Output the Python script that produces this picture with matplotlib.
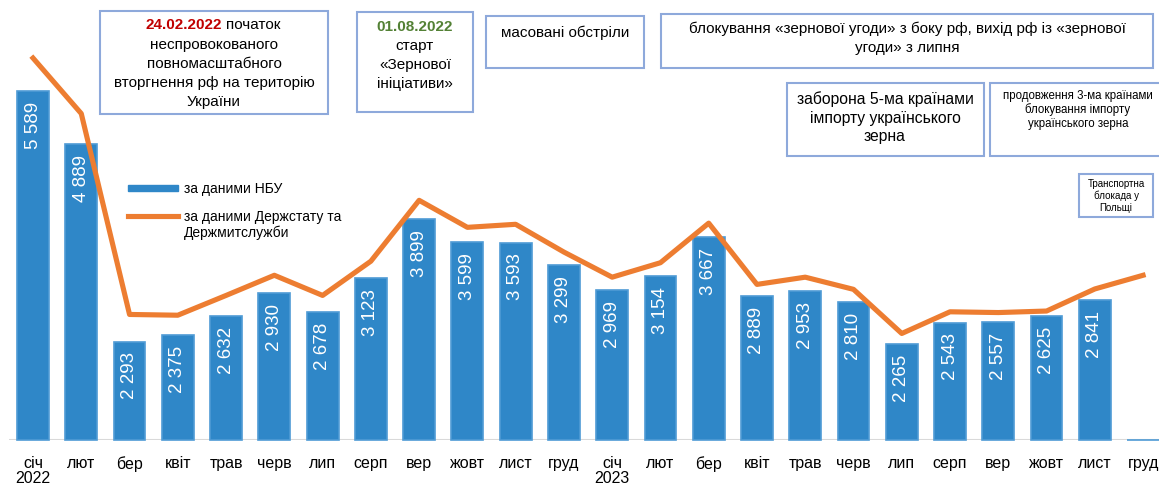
import numpy as np
import matplotlib
matplotlib.use("Agg")
import matplotlib.pyplot as plt
from matplotlib.patches import Rectangle
from matplotlib.lines import Line2D

plt.rcParams['font.family'] = ['Liberation Sans', 'DejaVu Sans']

# --- data ---
months = ['січ', 'лют', 'бер', 'квіт', 'трав', 'черв', 'лип', 'серп', 'вер', 'жовт', 'лист', 'груд'] * 2
years = {0: '2022', 12: '2023'}
nbu = [5589, 4889, 2293, 2375, 2632, 2930, 2678, 3123, 3899, 3599, 3593, 3299,
       2969, 3154, 3667, 2889, 2953, 2810, 2265, 2543, 2557, 2625, 2841, 0]
derzh = [6020, 5290, 2650, 2640, 2900, 3165, 2900, 3350, 4150, 3795, 3835, 3470,
         3140, 3330, 3850, 3045, 3140, 2980, 2400, 2685, 2675, 2695, 2985, 3165]
nbu_label = 'за даними НБУ'
derzh_label = 'за даними Держстату та\nДержмитслужби'

BLUE = '#2F87C8'
ORANGE = '#ED7D31'
BOXEDGE = '#8EA9DB'
W, H = 1159, 485
YMIN, YMAX = 1000, 6796

fig = plt.figure(figsize=(W / 100, H / 100), dpi=100)
ax = fig.add_axes([0, 1 - 441 / H, 1, 441 / H])


def fx(px):
    return px / W


def fy(py):
    return 1 - py / H


x = np.arange(len(months))
vals = np.array(nbu, dtype=float)
heights = np.maximum(vals - YMIN, 0)
ax.hlines(YMIN, -0.5, 23.5, color='#D9D9D9', linewidth=1.5, zorder=1)
# bars below the axis floor collapse to a hairline, like in the source chart
ax.bar(x, heights, bottom=YMIN, width=0.66, color=BLUE, edgecolor='#4F9BD5',
       linewidth=1.2, zorder=2, clip_on=False)
ax.plot(x, derzh, color=ORANGE, linewidth=3.7, zorder=4)

for xi, v in zip(x, nbu):
    if v <= YMIN:
        continue
    ax.annotate(f"{v:,}".replace(",", " "), (xi, v), xytext=(0, -7),
                textcoords='offset points', rotation=90, ha='center', va='top',
                color='white', fontsize=13.5, zorder=5)

ax.set_xlim(-0.684, 23.33)
ax.set_ylim(YMIN, YMAX)
ax.set_xticks(x)
ax.set_xticklabels([m + ('\n' + years[i] if i in years else '') for i, m in enumerate(months)],
                   fontsize=11.5, linespacing=1.0)
ax.tick_params(axis='x', length=0, pad=11)
ax.set_yticks([])
for s in ax.spines.values():
    s.set_visible(False)

# legend
fig.add_artist(Rectangle((fx(128), fy(192)), fx(178) - fx(128), fy(186) - fy(192),
                         transform=fig.transFigure, color=BLUE))
fig.add_artist(Line2D([fx(128), fx(178)], [fy(217), fy(217)], transform=fig.transFigure,
                      color=ORANGE, linewidth=3.7))
fig.text(fx(184), fy(189), nbu_label, fontsize=10, va='center', ha='left')
fig.text(fx(184), fy(210), derzh_label, fontsize=10, va='top', ha='left', linespacing=1.15)


def box(x0, y0, x1, y1):
    fig.add_artist(Rectangle((fx(x0), fy(y1)), fx(x1) - fx(x0), fy(y0) - fy(y1),
                             transform=fig.transFigure, facecolor='white',
                             edgecolor=BOXEDGE, linewidth=1.5, zorder=6))


def lines(cx, ys, texts, size):
    for yy, t in zip(ys, texts):
        fig.text(fx(cx), fy(yy), t, fontsize=size, ha='center', va='center', zorder=7)


# annotation boxes
box(100, 12, 328, 115)
fig.text(fx(222), fy(25), '24.02.2022', fontsize=11, fontweight='bold', color='#C00000',
         ha='right', va='center', zorder=7)
fig.text(fx(226), fy(25), 'початок', fontsize=11, ha='left', va='center', zorder=7)
lines(214, [45, 64, 83, 102], ['неспровокованого', 'повномасштабного',
                               'вторгнення рф на територію', 'України'], 11)

box(357, 13, 473, 113)
fig.text(fx(415), fy(27), '01.08.2022', fontsize=11, fontweight='bold', color='#538135',
         ha='center', va='center', zorder=7)
lines(415, [46, 65, 84], ['старт', '«Зернової', 'ініціативи»'], 11)

box(486, 17, 644, 69)
lines(565, [33], ['масовані обстріли'], 11)

box(661, 15, 1153, 69)
lines(907, [29, 48], ['блокування «зернової угоди» з боку рф, вихід рф із «зернової',
                      'угоди» з липня'], 11)

box(787, 84, 984, 157)
lines(885, [99, 118, 137], ['заборона 5-ма країнами', 'імпорту українського', 'зерна'], 11.3)

box(990, 84, 1165, 157)
lines(1078, [96, 110, 124], ['продовження 3-ма країнами', 'блокування імпорту',
                             'українського зерна'], 8.3)

box(1079, 175, 1153, 218)
lines(1116, [184, 196, 208], ['Транспортна', 'блокада у', 'Польщі'], 7)

fig.savefig('out.png', dpi=100)
